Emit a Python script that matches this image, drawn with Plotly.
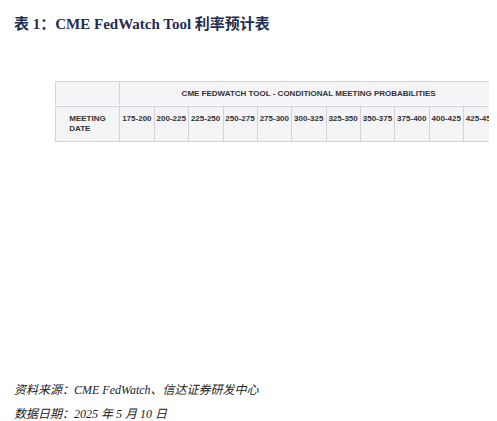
import plotly.graph_objects as go

dates = ['2025/6/18', '2025/7/30', '2025/9/17', '2025/10/29', '2025/12/10', '2026/1/28',
         '2026/3/18', '2026/4/29', '2026/6/17', '2026/7/29', '2026/9/16', '2026/10/28', '2026/12/9']
ranges = ['175-200', '200-225', '225-250', '250-275', '275-300', '300-325',
          '325-350', '350-375', '375-400', '400-425', '425-450']

# probabilities (%) per meeting, None = blank
probs = [
    [None, None, None, None, None, 0.0, 0.0, 0.0, 0.0, 17.2, 82.8],
    [0.0, 0.0, 0.0, 0.0, 0.0, 0.0, 0.0, 0.0, 8.9, 51.1, 40.0],
    [0.0, 0.0, 0.0, 0.0, 0.0, 0.0, 0.0, 6.4, 39.3, 43.1, 11.1],
    [0.0, 0.0, 0.0, 0.0, 0.0, 0.0, 3.8, 26.1, 41.6, 24.0, 4.5],
    [0.0, 0.0, 0.0, 0.0, 0.0, 2.5, 18.6, 36.4, 29.9, 11.1, 1.5],
    [0.0, 0.0, 0.0, 0.0, 1.0, 8.9, 25.7, 33.8, 22.4, 7.3, 0.9],
    [0.0, 0.0, 0.0, 0.5, 4.8, 16.8, 29.5, 28.4, 15.3, 4.3, 0.5],
    [0.0, 0.0, 0.1, 1.5, 7.5, 19.7, 29.3, 25.4, 12.8, 3.4, 0.4],
    [0.0, 0.0, 0.5, 3.3, 11.3, 22.7, 28.1, 21.5, 9.8, 2.5, 0.3],
    [0.0, 0.1, 0.8, 4.2, 12.5, 23.3, 27.4, 20.2, 9.0, 2.2, 0.2],
    [0.1, 0.7, 3.7, 11.2, 21.6, 26.7, 21.4, 10.8, 3.3, 0.5, 0.0],
    [0.0, 0.3, 1.8, 6.5, 15.1, 23.5, 24.7, 17.4, 8.0, 2.3, 0.4],
    [0.2, 1.4, 5.1, 12.6, 21.0, 24.3, 19.5, 10.7, 3.9, 0.9, 0.1],
]

CYAN = '#bff3f9'
YELLOW = '#fbf9d3'
WHITE = 'white'
LINE = '#d3d3dc'

cols_text = [dates]
cols_fill = [[WHITE] * len(dates)]
for j in range(len(ranges)):
    cols_text.append(['' if r[j] is None else f'{r[j]:.1f}%' for r in probs])
    cols_fill.append([])
for i, r in enumerate(probs):
    vals = [v if v is not None else -1 for v in r]
    m = vals.index(max(vals))
    for j in range(len(ranges)):
        cols_fill[j + 1].append(CYAN if j == m else (YELLOW if j > m else WHITE))

font = dict(family='Liberation Sans, Arial', size=8, color='#333333')
x_dom = [47 / 497, 490 / 497]
widths = [65] + [34.4] * len(ranges)

top = go.Table(
    domain=dict(x=x_dom, y=[1 - 98 / 421, 1 - 73 / 421]),
    columnwidth=[65, 34.4 * len(ranges)],
    header=dict(values=['', '<b>CME FEDWATCH TOOL - CONDITIONAL MEETING PROBABILITIES</b>'],
                fill_color='#f4f4f6', line_color=LINE, height=25, align='center', font=font),
)

main = go.Table(
    domain=dict(x=x_dom, y=[1 - 355 / 421, 1 - 98 / 421]),
    columnwidth=widths,
    header=dict(values=['<b>MEETING DATE</b>'] + [f'<b>{r}</b>' for r in ranges],
                fill_color='#f4f4f6', line_color=LINE, height=24, align='center', font=font),
    cells=dict(values=cols_text, fill_color=cols_fill, line_color=LINE, height=15.5,
               align='right', font=font),
)

fig = go.Figure(data=[top, main])
fig.update_layout(
    width=497, height=421, margin=dict(l=0, r=0, t=0, b=0),
    paper_bgcolor='white', showlegend=False,
)
fig.add_annotation(text='<b>表 1：CME FedWatch Tool 利率预计表</b>', x=4 / 497, y=1 - 5 / 421,
                   xref='paper', yref='paper', xanchor='left', yanchor='top', showarrow=False,
                   font=dict(family='Liberation Serif, Noto Sans CJK SC', size=15, color='#1f2d4f'))
fig.add_annotation(text='<i>资料来源：CME FedWatch、信达证券研发中心</i>', x=4 / 497, y=1 - 373 / 421,
                   xref='paper', yref='paper', xanchor='left', yanchor='top', showarrow=False,
                   font=dict(family='Liberation Serif, Noto Sans CJK SC', size=12, color='#222222'))
fig.add_annotation(text='<i>数据日期：2025 年 5 月 10 日</i>', x=4 / 497, y=1 - 397 / 421,
                   xref='paper', yref='paper', xanchor='left', yanchor='top', showarrow=False,
                   font=dict(family='Liberation Serif, Noto Sans CJK SC', size=12, color='#222222'))
fig.write_html('out.html')
